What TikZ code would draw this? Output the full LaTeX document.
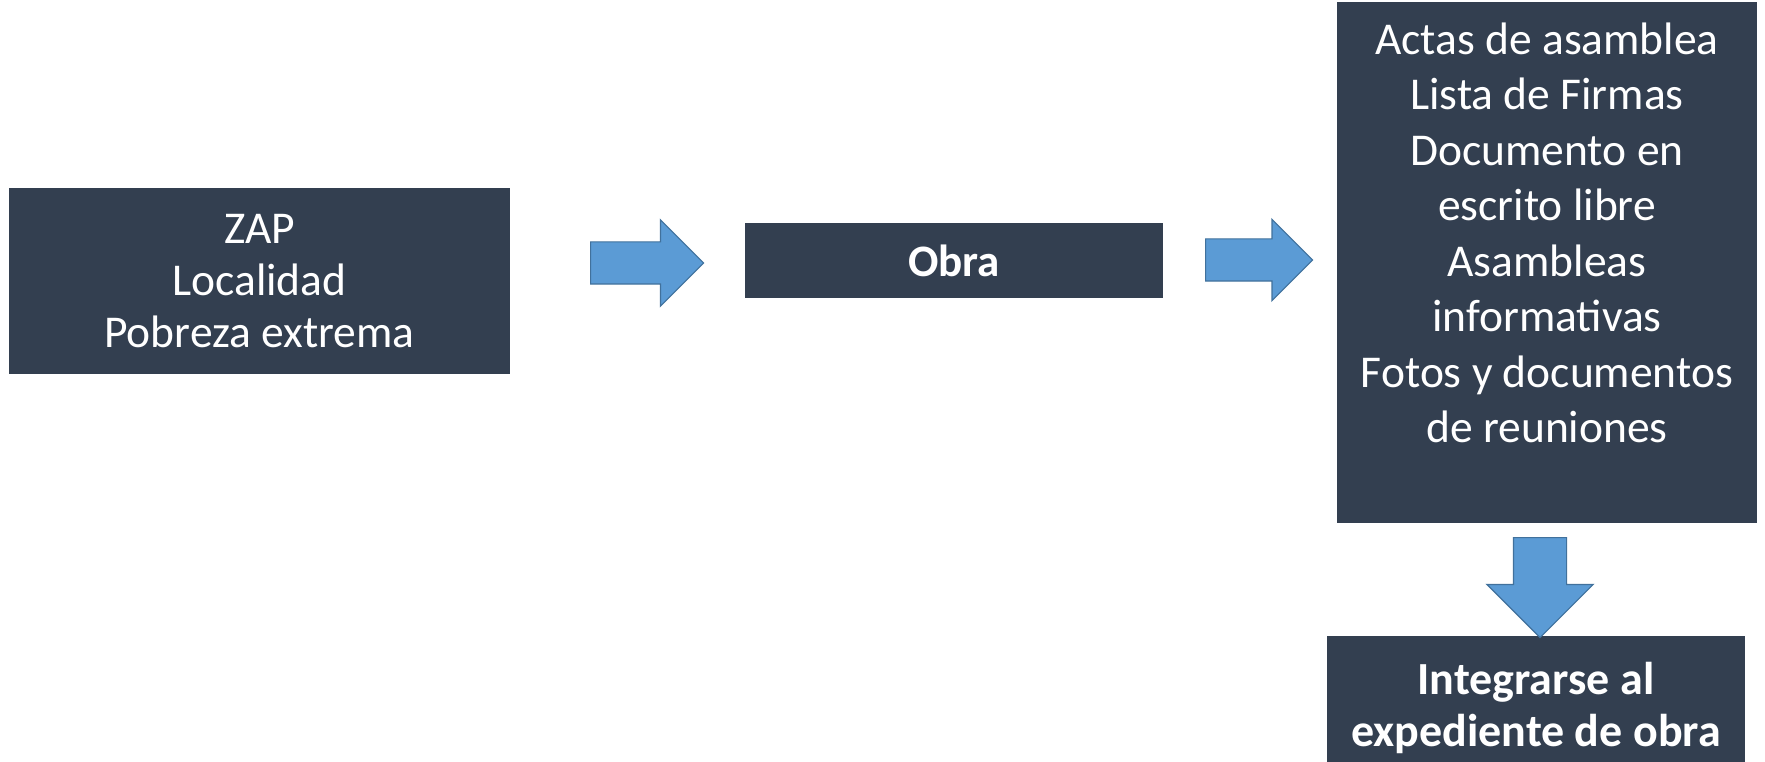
\documentclass[tikz,border=0pt]{standalone}
\usepackage{fontspec}
\setmainfont{Carlito}
\usepackage{xcolor}
\usepackage{tikz}
\usetikzlibrary{shapes.arrows}
\definecolor{cajaazul}{HTML}{333F50}
\definecolor{flechaazul}{HTML}{5B9BD5}
\definecolor{flecharand}{HTML}{41719C}

\begin{document}
\begin{tikzpicture}[x=1pt,y=-1pt,
caja/.style={fill=cajaazul,text=white,align=center,inner sep=0pt,font=\fontsize{45.5}{52}\selectfont},
flecha/.style={single arrow,anchor=tail,fill=flechaazul,draw=flecharand,line width=1.2pt,inner xsep=0pt,inner ysep=20.5pt,single arrow head extend=22pt,minimum width=85pt}]
\useasboundingbox (0,0) rectangle (1765,762);
\clip (0,0) rectangle (1765,762);
\node[caja,minimum width=501pt,minimum height=186pt] (zap) at (259.5,281) {ZAP\\Localidad\\Pobreza extrema};
\node[caja,minimum width=418pt,minimum height=75pt,font=\fontsize{45}{52}\selectfont\bfseries] (obra) at (954,260.5) {Obra};
\node[caja,minimum width=420pt,minimum height=521pt,font=\fontsize{45.5}{55.5}\selectfont] (actas) at (1547,262.5) {Actas de asamblea\\Lista de Firmas\\Documento en\\escrito libre\\Asambleas\\informativas\\Fotos y documentos\\de reuniones\\[-13pt]\strut};
\node[caja,minimum width=418pt,minimum height=144pt,font=\fontsize{46}{52}\selectfont\bfseries] (expediente) at (1536,708) {Integrarse al\\expediente de obra};
\node[flecha,minimum height=113pt] (f1) at (590,263) {};
\node[flecha,minimum height=107pt,minimum width=80pt,single arrow head extend=19.5pt] (f2) at (1205,260) {};
\node[flecha,minimum height=100pt,minimum width=105pt,inner ysep=26pt,single arrow head extend=26.5pt,rotate=-90] (f3) at (1540,537) {};
\end{tikzpicture}
\end{document}
